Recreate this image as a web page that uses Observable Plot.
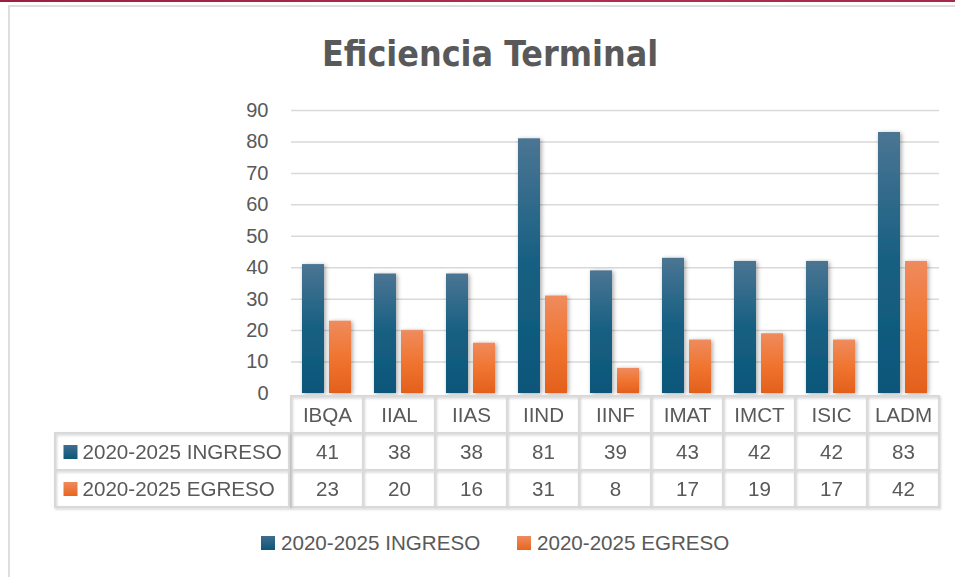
<!DOCTYPE html>
<html>
<head>
<meta charset="utf-8">
<script src="https://cdn.jsdelivr.net/npm/d3@7"></script>
<script src="https://cdn.jsdelivr.net/npm/@observablehq/plot@0.6"></script>
<style>
  html, body { margin: 0; padding: 0; background: #fff; }
  #wrap { position: relative; width: 955px; height: 577px; overflow: hidden; background: #fff;
          font-family: "Liberation Sans", Arial, sans-serif; color: #595959; }
  #topbar { position: absolute; left: 0; top: 0; width: 955px; height: 2px; background: linear-gradient(90deg, #9c1f42, #b12e4f 60%, #a8294a); }
  #card { position: absolute; left: 8px; top: 5px; width: 1000px; height: 600px; border-left: 2px solid #dedede; border-top: 2px solid #dedede; box-sizing: border-box; }
  #title { position: absolute; left: 290px; width: 400px; top: 36px; text-align: center;
           font-family: "Liberation Sans Narrow", "DejaVu Sans Condensed", "Liberation Sans", sans-serif;
           font-weight: bold; font-size: 35.5px; line-height: 35.5px; color: #595959; white-space: nowrap; }
  .abs { position: absolute; }
  .legitem { position: absolute; top: 533px; font-size: 20.6px; line-height: 20px; white-space: nowrap; }
  .sq { position: absolute; width: 14px; height: 14px; top: 536px; }
</style>
</head>
<body>
<div id="wrap">
  <div id="topbar"></div>
  <div id="card"></div>
  <div id="title"></div>
</div>
<script>
// ---- data ----
const title = "Eficiencia Terminal";
const categories = ["IBQA", "IIAL", "IIAS", "IIND", "IINF", "IMAT", "IMCT", "ISIC", "LADM"];
const ingreso = [41, 38, 38, 81, 39, 43, 42, 42, 83];
const egreso = [23, 20, 16, 31, 8, 17, 19, 17, 42];
const seriesNames = ["2020-2025 INGRESO", "2020-2025 EGRESO"];
const yTicks = [0, 10, 20, 30, 40, 50, 60, 70, 80, 90];

const FONT = '"Liberation Sans", Arial, sans-serif';
const GRAY = "#595959";
const GRID = "#d9d9d9";
const TXT = 20.6;

const wrap = document.getElementById("wrap");
document.getElementById("title").textContent = title;

const ingData = categories.map((c, i) => ({cat: c, series: seriesNames[0], value: ingreso[i]}));
const egrData = categories.map((c, i) => ({cat: c, series: seriesNames[1], value: egreso[i]}));

// ---- bar chart ----
const chart = Plot.plot({
  width: 955, height: 305,
  marginLeft: 289, marginRight: 15, marginTop: 20, marginBottom: 2,
  style: {fontFamily: FONT, fontSize: "20px", color: GRAY, background: "transparent", overflow: "visible"},
  fx: {domain: categories, padding: 0, axis: null},
  x: {domain: seriesNames, paddingInner: 0.18, paddingOuter: 0.38, axis: null},
  y: {domain: [0, 90], ticks: yTicks, tickSize: 0, tickPadding: 23, label: null},
  marks: [
    Plot.ruleY(yTicks.filter(d => d > 0), {stroke: GRID, strokeWidth: 1.5}),
    Plot.barY(ingData, {fx: "cat", x: "series", y: "value", fill: "url(#gIng)"}),
    Plot.barY(egrData, {fx: "cat", x: "series", y: "value", fill: "url(#gEgr)"})
  ]
});
chart.classList.add("abs");
chart.style.left = "0px";
chart.style.top = "90px";
wrap.appendChild(chart);

const s1 = d3.select(chart);
const defs = s1.insert("defs", ":first-child");
function grad(id, stops) {
  const g = defs.append("linearGradient").attr("id", id)
    .attr("x1", 0).attr("y1", 0).attr("x2", 0).attr("y2", 1);
  stops.forEach(([o, c]) => g.append("stop").attr("offset", o).attr("stop-color", c));
}
grad("gIng", [[0, "#4b7593"], [0.5, "#165f82"], [1, "#0c5779"]]);
grad("gEgr", [[0, "#ef8b5e"], [0.5, "#f07530"], [1, "#e3601c"]]);
const f = defs.append("filter").attr("id", "shadow")
  .attr("x", "-50%").attr("y", "-10%").attr("width", "200%").attr("height", "120%");
f.append("feDropShadow").attr("dx", 1.5).attr("dy", 1).attr("stdDeviation", 2)
  .attr("flood-color", "#000").attr("flood-opacity", 0.35);
const f2 = defs.append("filter").attr("id", "tshadow")
  .attr("x", "-5%").attr("y", "-5%").attr("width", "110%").attr("height", "115%");
f2.append("feDropShadow").attr("dx", 1).attr("dy", 1.5).attr("stdDeviation", 0.8)
  .attr("flood-color", "#000").attr("flood-opacity", 0.18);
s1.selectAll('g[aria-label="bar"]').attr("filter", "url(#shadow)");

// ---- data table ----
const rows = ["header", ...seriesNames];
const cells = categories.flatMap((c, i) => [
  {cat: c, row: rows[0], label: c},
  {cat: c, row: rows[1], label: String(ingreso[i])},
  {cat: c, row: rows[2], label: String(egreso[i])}
]);
const table = Plot.plot({
  width: 955, height: 116,
  marginLeft: 289, marginRight: 15, marginTop: 2, marginBottom: 2,
  style: {fontFamily: FONT, fontSize: TXT + "px", color: GRAY, background: "transparent", overflow: "visible"},
  x: {domain: categories, padding: 0, axis: null},
  y: {domain: rows, padding: 0, axis: null},
  marks: [
    Plot.cell(cells, {x: "cat", y: "row", fill: "none", stroke: GRID, strokeWidth: 2, inset: 0}),
    Plot.text(cells, {x: "cat", y: "row", text: "label", fontSize: TXT, fill: GRAY})
  ]
});
table.classList.add("abs");
table.style.left = "0px";
table.style.top = "393px";
wrap.appendChild(table);
d3.select(table).selectAll('g[aria-label="cell"]').attr("filter", "url(#tshadow)");

// ---- table legend column ----
const legendCol = Plot.plot({
  width: 290, height: 116,
  marginLeft: 55, marginRight: 1, marginTop: 2, marginBottom: 2,
  style: {fontFamily: FONT, fontSize: TXT + "px", color: GRAY, background: "transparent", overflow: "visible"},
  y: {domain: rows, padding: 0, axis: null},
  marks: [
    Plot.cell(seriesNames, {y: d => d, fill: "none", stroke: GRID, strokeWidth: 2, inset: 0}),
    Plot.dot([seriesNames[0]], {y: d => d, frameAnchor: "left", dx: 15, symbol: "square", r: 7.9, fill: "url(#gIngSq)"}),
    Plot.dot([seriesNames[1]], {y: d => d, frameAnchor: "left", dx: 15, symbol: "square", r: 7.9, fill: "url(#gEgrSq)"}),
    Plot.text(seriesNames, {y: d => d, text: d => d, frameAnchor: "left", textAnchor: "start", dx: 27, fontSize: TXT, fill: GRAY})
  ]
});
legendCol.classList.add("abs");
legendCol.style.left = "0px";
legendCol.style.top = "393px";
wrap.appendChild(legendCol);
grad("gIngSq", [[0, "#3f6d8e"], [1, "#0c5779"]]);
grad("gEgrSq", [[0, "#ef8b5e"], [1, "#e9651f"]]);
d3.select(legendCol).selectAll('g[aria-label="cell"]').attr("filter", "url(#tshadow)");

// ---- bottom legend ----
const legendPos = [{sq: 261, tx: 281}, {sq: 517, tx: 537}];
const sqBg = ["linear-gradient(#3f6d8e, #0c5779)", "linear-gradient(#ef8b5e, #e9651f)"];
seriesNames.forEach((name, i) => {
  const sq = document.createElement("div");
  sq.className = "sq";
  sq.style.left = legendPos[i].sq + "px";
  sq.style.background = sqBg[i];
  wrap.appendChild(sq);
  const t = document.createElement("div");
  t.className = "legitem";
  t.style.left = legendPos[i].tx + "px";
  t.textContent = name;
  wrap.appendChild(t);
});
</script>
</body>
</html>
